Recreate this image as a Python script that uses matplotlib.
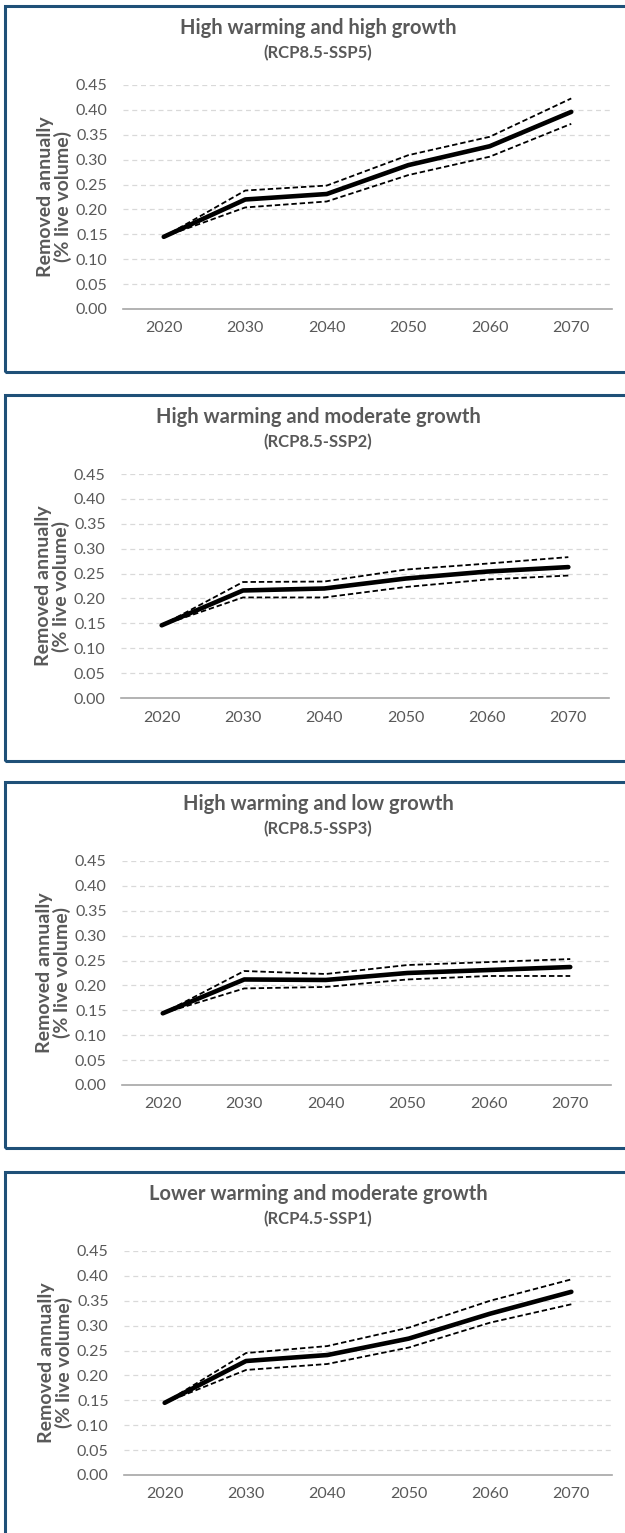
import matplotlib.pyplot as plt
from matplotlib.patches import Rectangle

# Data
years = ['2020', '2030', '2040', '2050', '2060', '2070']
yticks = [0.00, 0.05, 0.10, 0.15, 0.20, 0.25, 0.30, 0.35, 0.40, 0.45]

titles = ['High warming and high growth', 'High warming and moderate growth',
          'High warming and low growth', 'Lower warming and moderate growth']
subtitles = ['(RCP8.5-SSP5)', '(RCP8.5-SSP2)', '(RCP8.5-SSP3)', '(RCP4.5-SSP1)']

ssp5_mean = [0.145, 0.220, 0.231, 0.289, 0.327, 0.396]
ssp5_upper = [0.145, 0.238, 0.248, 0.309, 0.346, 0.423]
ssp5_lower = [0.145, 0.204, 0.216, 0.269, 0.306, 0.372]

ssp2_mean = [0.146, 0.216, 0.220, 0.240, 0.254, 0.263]
ssp2_upper = [0.146, 0.233, 0.234, 0.258, 0.270, 0.283]
ssp2_lower = [0.146, 0.202, 0.202, 0.223, 0.238, 0.246]

ssp3_mean = [0.144, 0.212, 0.211, 0.225, 0.231, 0.237]
ssp3_upper = [0.144, 0.229, 0.223, 0.241, 0.247, 0.253]
ssp3_lower = [0.144, 0.194, 0.197, 0.212, 0.219, 0.219]

ssp1_mean = [0.145, 0.229, 0.241, 0.274, 0.324, 0.368]
ssp1_upper = [0.145, 0.245, 0.259, 0.296, 0.350, 0.393]
ssp1_lower = [0.145, 0.211, 0.223, 0.256, 0.306, 0.343]

means = [ssp5_mean, ssp2_mean, ssp3_mean, ssp1_mean]
uppers = [ssp5_upper, ssp2_upper, ssp3_upper, ssp1_upper]
lowers = [ssp5_lower, ssp2_lower, ssp3_lower, ssp1_lower]

plt.rcParams['font.family'] = ['Lato', 'DejaVu Sans']
grey = '#595959'
border = '#1f5078'

W, H = 625, 1533
fig = plt.figure(figsize=(W / 100, H / 100), dpi=100)

# panel layout in pixels (top of each box, axes left/right)
tops = [6, 395, 782, 1172]
lefts = [123, 121, 122, 124]
rights = [612, 609, 611, 612]

for i in range(4):
    top = tops[i]

    # box around each panel
    fig.patches.append(Rectangle((5 / W, 1 - (top + 366) / H), 700 / W, 366 / H,
                                 transform=fig.transFigure, fill=False,
                                 edgecolor=border, linewidth=2.2))

    ax_top = top + 79
    ax_bot = top + 303
    ax = fig.add_axes([lefts[i] / W, 1 - ax_bot / H,
                       (rights[i] - lefts[i]) / W, (ax_bot - ax_top) / H])

    x = range(len(years))
    ax.plot(x, means[i], color='black', linewidth=3.3, solid_capstyle='round', zorder=3)
    ax.plot(x, uppers[i], color='black', linewidth=1.3, linestyle=(0, (3, 1.6)), zorder=4)
    ax.plot(x, lowers[i], color='black', linewidth=1.3, linestyle=(0, (3, 1.6)), zorder=4)

    ax.set_xlim(-0.5, len(years) - 0.5)
    ax.set_ylim(0, 0.45)
    ax.set_xticks(list(x))
    ax.set_xticklabels(years)
    ax.set_yticks(yticks)
    ax.set_yticklabels(['%.2f' % v for v in yticks])
    ax.tick_params(length=0, labelsize=11.5, colors=grey)
    ax.tick_params(axis='y', pad=11)
    ax.tick_params(axis='x', pad=9)

    ax.grid(axis='y', color='#d9d9d9', linestyle=(0, (4, 3)), linewidth=0.9)
    ax.set_axisbelow(True)
    for side in ['top', 'right', 'left']:
        ax.spines[side].set_visible(False)
    ax.spines['bottom'].set_color('#a6a6a6')
    ax.spines['bottom'].set_linewidth(1.2)

    ax.set_ylabel('Removed annually\n(% live volume)', fontsize=14,
                  fontweight='bold', color=grey, labelpad=3, linespacing=1.0)

    fig.text(318 / W, 1 - (top + 22) / H, titles[i], ha='center', va='center',
             fontsize=14.5, fontweight='bold', color=grey)
    fig.text(318 / W, 1 - (top + 47) / H, subtitles[i], ha='center', va='center',
             fontsize=12, fontweight='bold', color=grey)

fig.savefig('out.png', dpi=100, facecolor='white')
